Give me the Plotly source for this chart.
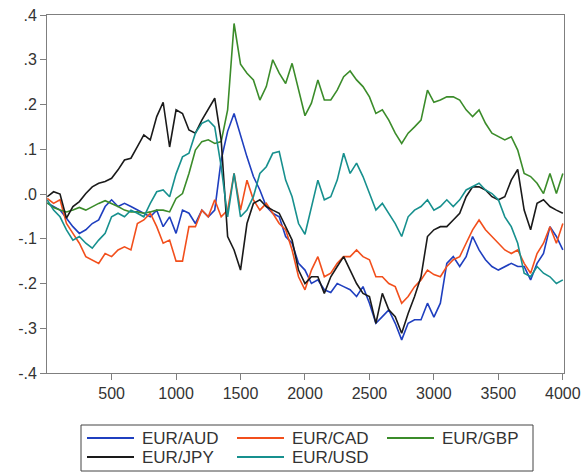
import plotly.graph_objects as go

x = [1] + list(range(50, 4001, 50))

eur_aud = [-0.020, -0.028, -0.036, -0.054, -0.073, -0.088, -0.080, -0.066, -0.058, -0.028,
           -0.013, -0.028, -0.021, -0.028, -0.036, -0.043, -0.051, -0.036, -0.073, -0.051,
           -0.088, -0.036, -0.043, -0.066, -0.036, -0.051, -0.036, 0.076, 0.140, 0.180,
           0.130, 0.083, 0.039, 0.009, -0.028, -0.043, -0.051, -0.095, -0.110, -0.155,
           -0.170, -0.200, -0.192, -0.214, -0.220, -0.200, -0.207, -0.214, -0.229, -0.207,
           -0.244, -0.289, -0.274, -0.259, -0.289, -0.326, -0.289, -0.281, -0.281, -0.244,
           -0.275, -0.244, -0.155, -0.140, -0.162, -0.140, -0.095, -0.125, -0.147, -0.162,
           -0.170, -0.162, -0.155, -0.162, -0.162, -0.192, -0.155, -0.133, -0.073, -0.095,
           -0.125]

eur_cad = [-0.010, -0.021, -0.013, -0.066, -0.088, -0.110, -0.140, -0.147, -0.155, -0.133,
           -0.140, -0.125, -0.118, -0.125, -0.066, -0.058, -0.043, -0.073, -0.110, -0.103,
           -0.150, -0.150, -0.073, -0.073, -0.036, -0.051, -0.013, -0.051, -0.036, 0.046,
           -0.036, 0.031, -0.013, -0.036, -0.021, -0.043, -0.066, -0.080, -0.125, -0.185,
           -0.214, -0.170, -0.140, -0.185, -0.177, -0.155, -0.140, -0.140, -0.125, -0.140,
           -0.147, -0.185, -0.185, -0.200, -0.207, -0.244, -0.229, -0.207, -0.192, -0.170,
           -0.180, -0.185, -0.162, -0.147, -0.140, -0.110, -0.080, -0.058, -0.080, -0.095,
           -0.110, -0.125, -0.133, -0.125, -0.155, -0.177, -0.133, -0.110, -0.073, -0.110,
           -0.066]

eur_gbp = [-0.020, -0.030, -0.036, -0.040, -0.036, -0.030, -0.036, -0.028, -0.021, -0.015,
           -0.021, -0.028, -0.036, -0.040, -0.040, -0.043, -0.040, -0.036, -0.036, -0.040,
           -0.010, 0.001, 0.046, 0.098, 0.117, 0.121, 0.113, 0.117, 0.188, 0.381,
           0.290, 0.270, 0.255, 0.210, 0.240, 0.300, 0.270, 0.247, 0.292, 0.232,
           0.175, 0.203, 0.255, 0.210, 0.210, 0.232, 0.262, 0.275, 0.255, 0.240,
           0.217, 0.180, 0.188, 0.165, 0.136, 0.113, 0.136, 0.150, 0.165, 0.232,
           0.205, 0.210, 0.217, 0.217, 0.210, 0.188, 0.173, 0.188, 0.158, 0.136,
           0.128, 0.121, 0.128, 0.098, 0.046, 0.039, 0.024, 0.001, 0.046, 0.001,
           0.046]

eur_jpy = [-0.006, 0.005, 0.000, -0.054, -0.028, -0.017, 0.001, 0.016, 0.024, 0.028,
           0.035, 0.054, 0.076, 0.080, 0.106, 0.132, 0.121, 0.173, 0.205, 0.105,
           0.188, 0.180, 0.143, 0.136, 0.165, 0.188, 0.214, 0.121, -0.095, -0.125,
           -0.170, -0.066, -0.021, -0.013, -0.028, -0.036, -0.043, -0.073, -0.103, -0.170,
           -0.200, -0.185, -0.185, -0.222, -0.185, -0.162, -0.140, -0.170, -0.200, -0.222,
           -0.229, -0.289, -0.222, -0.259, -0.274, -0.311, -0.267, -0.229, -0.185, -0.095,
           -0.080, -0.073, -0.073, -0.058, -0.043, -0.006, 0.016, 0.016, 0.009, -0.006,
           -0.013, -0.006, 0.031, 0.055, -0.036, -0.080, -0.021, -0.013, -0.028, -0.036,
           -0.043]

eur_usd = [-0.013, -0.036, -0.051, -0.080, -0.103, -0.095, -0.110, -0.121, -0.103, -0.088,
           -0.051, -0.043, -0.051, -0.036, -0.043, -0.051, -0.021, 0.005, 0.009, -0.006,
           0.045, 0.083, 0.091, 0.136, 0.158, 0.165, 0.150, 0.061, -0.051, 0.046,
           -0.051, -0.036, -0.006, 0.046, 0.061, 0.091, 0.095, 0.031, -0.006, -0.066,
           -0.090, -0.028, 0.031, -0.013, -0.006, 0.031, 0.091, 0.046, 0.069, 0.039,
           0.001, -0.036, -0.021, -0.043, -0.066, -0.095, -0.051, -0.036, -0.028, -0.013,
           -0.036, -0.028, -0.013, -0.028, -0.013, 0.009, 0.016, 0.024, 0.009, 0.001,
           -0.013, -0.051, -0.073, -0.110, -0.177, -0.185, -0.162, -0.177, -0.185, -0.200,
           -0.192]

names = ["EUR/AUD", "EUR/CAD", "EUR/GBP", "EUR/JPY", "EUR/USD"]
series = [eur_aud, eur_cad, eur_gbp, eur_jpy, eur_usd]
colors = ["#1f3fbf", "#f24f1c", "#3b8c2a", "#1a1a1a", "#17908e"]

y_ticks = [0.4, 0.3, 0.2, 0.1, 0.0, -0.1, -0.2, -0.3, -0.4]
y_labels = [".4", ".3", ".2", ".1", ".0", "-.1", "-.2", "-.3", "-.4"]
x_ticks = [500, 1000, 1500, 2000, 2500, 3000, 3500, 4000]

W, H = 582, 472
ML, MR, MT, MB = 47, 18, 15, 99
PW, PH = W - ML - MR, H - MT - MB


def px(xp):
    return (xp - ML) / PW


def py(yp):
    return (H - MB - yp) / PH


fig = go.Figure()
for n, s, c in zip(names, series, colors):
    fig.add_trace(go.Scatter(x=x, y=s, mode="lines", name=n,
                             line=dict(color=c, width=1.6)))

axis_common = dict(showgrid=False, zeroline=False, showline=True, linecolor="#7f7f7f",
                   linewidth=1, mirror=True, ticks="outside", ticklen=6,
                   tickcolor="#7f7f7f", tickfont=dict(size=16, color="#333333"))

# legend drawn as a framed box below the plot (two rows, three columns)
shapes = [dict(type="rect", xref="paper", yref="paper",
               x0=px(81), x1=px(533), y0=py(425), y1=py(471),
               line=dict(color="#444444", width=1), fillcolor="white", layer="above")]
annotations = []
col_x = [87, 237, 387]
row_y = [438, 457]
for i, (n, c) in enumerate(zip(names, colors)):
    cx = col_x[i % 3]
    ry = row_y[i // 3]
    shapes.append(dict(type="line", xref="paper", yref="paper",
                       x0=px(cx), x1=px(cx + 47), y0=py(ry), y1=py(ry),
                       line=dict(color=c, width=2)))
    annotations.append(dict(text=n, xref="paper", yref="paper", x=px(cx + 53), y=py(ry),
                            xanchor="left", yanchor="middle", showarrow=False,
                            font=dict(size=17, color="#333333")))

fig.update_layout(
    width=W, height=H,
    margin=dict(l=ML, r=MR, t=MT, b=MB, autoexpand=False),
    paper_bgcolor="white", plot_bgcolor="white",
    font=dict(family="Liberation Sans, Arial, sans-serif", size=16, color="#333333"),
    xaxis=dict(range=[-1, 4009], tickvals=x_ticks, **axis_common),
    yaxis=dict(range=[-0.4, 0.4], tickvals=y_ticks, ticktext=y_labels, **axis_common),
    showlegend=False,
    shapes=shapes,
    annotations=annotations,
)

fig.write_html("out.html",
               config={"displayModeBar": False},
               post_script="document.body.style.margin='0';document.body.style.overflow='hidden';")
